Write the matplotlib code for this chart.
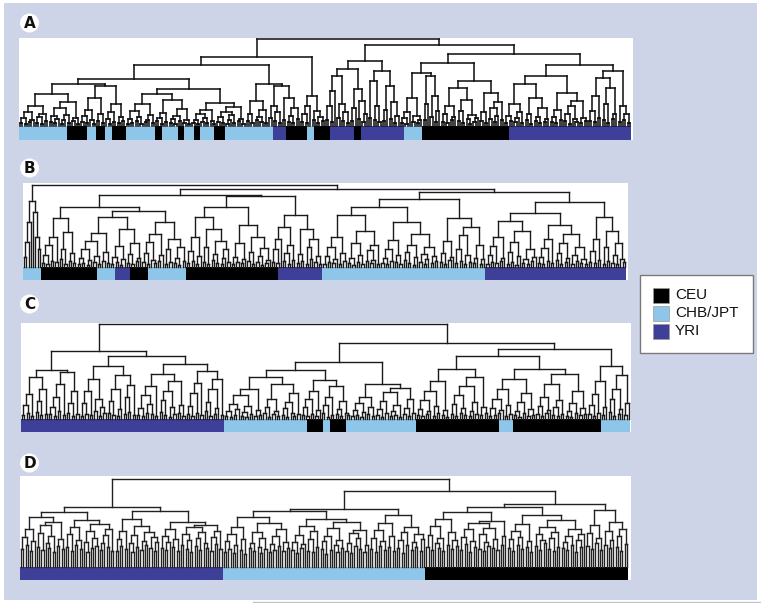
import matplotlib
matplotlib.use("Agg")
import matplotlib.pyplot as plt
from matplotlib.collections import LineCollection
from matplotlib.patches import Rectangle, Circle
import numpy as np

W, H = 761, 603

# ---------------- data ----------------
POP_NAMES = ["CEU", "CHB/JPT", "YRI"]
POP_COLORS = {"CEU": "#000000", "CHB/JPT": "#8ec6ea", "YRI": "#3d3f98"}
C_, J_, Y_ = "CEU", "CHB/JPT", "YRI"

# colour-bar segments (population, number of individuals) left -> right
A_pops = [J_, C_, J_, C_, J_, C_, J_, C_, J_, C_, J_, C_, J_, C_, J_, Y_, C_, J_, C_, Y_, C_, Y_, J_, C_, Y_]
A_counts = [21, 9, 4, 4, 3, 6, 13, 3, 7, 3, 4, 3, 6, 5, 21, 6, 9, 3, 7, 11, 3, 19, 8, 38, 54]
B_pops = [J_, C_, J_, Y_, C_, J_, C_, Y_, J_, Y_]
B_counts = [8, 25, 8, 7, 8, 17, 41, 20, 73, 63]
C_pops = [Y_, J_, C_, J_, C_, J_, C_, J_, C_, J_]
C_counts = [90, 37, 7, 3, 7, 31, 37, 6, 39, 13]
D_pops = [Y_, J_, C_]
D_counts = [90, 90, 90]

# dendrograms: (merge height, left, right); a list = merge heights between
# neighbouring leaves inside a small cluster
A_tree = (87,
  (69,
    (61,
      (47,
        (42, [3, 8, 2, 14, 4, 6, 20, 3, 9, 2, 12, 5, 32, 4, 10, 3, 7, 18, 2, 6, 11, 3, 24, 5, 8, 2],
             [4, 10, 3, 16, 6, 2, 28, 5, 12, 3, 40, 7, 2, 14, 4, 22, 3, 9, 5]),
        (37, [2, 7, 3, 15, 5, 9, 2, 22, 4, 6, 11, 3, 32, 5, 8, 2, 13, 4, 26, 3, 7, 2, 10, 5, 17, 3, 6, 2],
             [3, 6, 2, 12, 4, 8, 3, 16, 5, 2, 23, 4, 9, 3, 14, 2, 6, 11, 3, 19, 5, 7, 2])),
      [5, 12, 3, 25, 6, 9, 4, 16, 3, 42, 8, 20, 5, 14, 3, 40, 6, 28, 4, 10, 3, 18, 7]),
    [4, 12, 3, 20, 30, 6, 15, 3, 9, 5]),
  (81,
    (65,
      (57, [6, 20, 4, 35, 50, 8, 22, 5, 14, 3], [5, 18, 37, 7, 25, 4, 12]),
      (55, [8, 45, 6, 20, 4], [5, 16, 40, 7, 24, 3, 10])),
    (72,
      (63,
        (53, [3, 8, 2, 14, 28, 4, 10, 3, 6], [6, 22, 50, 9, 30, 4, 15]),
        (45, [4, 12, 3, 20, 6, 9, 38, 5, 15, 3, 26, 7, 2, 11, 4, 8],
             [5, 14, 3, 33, 7, 18, 4, 10, 24, 6])),
      (61,
        (50, [3, 10, 5, 22, 4, 8, 14, 3, 42, 6, 12, 2, 28, 5, 9, 3, 18, 4, 7],
             [4, 9, 3, 16, 6, 33, 5, 12, 2, 20, 7, 4, 25, 3, 8, 5]),
        (55, [5, 15, 4, 30, 8, 48, 6, 22, 3, 38, 7, 12], [4, 20, 6, 12, 3])))))

B_tree = (82,
  [10, 25, 45, 66, 55, 30, 18],
  (78,
    (72,
      (60, [4, 12, 3, 22, 6, 30, 5, 49, 8, 18, 3, 35, 6, 14, 4],
           (56, [3, 9, 4, 18, 2, 7, 26, 5, 11, 3, 34, 6, 15, 4, 50, 3, 10, 5, 21, 2, 8, 38, 4, 13, 3, 24, 6, 9],
                [5, 14, 3, 25, 7, 4, 33, 6, 12, 45, 3, 18, 5, 28, 4, 9, 2, 20, 6])),
      (71, (60, [4, 16, 6, 30, 3, 11, 50, 5, 20, 3, 38, 7, 13, 4, 26, 3, 9, 18, 5],
                [3, 10, 5, 24, 4, 8, 42, 6, 15, 3, 30, 5, 11, 2, 19, 4, 7]),
           (52, [5, 18, 4, 28, 40, 6, 14, 3, 22, 7],
                [4, 13, 6, 38, 3, 20, 8, 28, 5, 11, 3]))),
    (75,
      (68, (60, [3, 11, 5, 20, 4, 8, 30, 3, 14, 6, 52, 4, 9, 2, 24, 5, 12, 3, 36, 6, 17, 4, 7, 22, 3],
                [4, 9, 3, 18, 6, 27, 5, 12, 3, 45, 7, 15, 4, 22, 2, 10, 33, 5, 13, 3, 8, 20, 4, 11, 6]),
           [5, 14, 3, 26, 7, 10, 49, 4, 18, 6, 32, 3, 12, 5, 40, 4, 9, 22, 3, 8]),
      (65, (54, [3, 12, 5, 21, 4, 30, 6, 9, 46, 3, 15, 5, 25, 2, 11, 36, 4, 8, 3, 18, 6, 10],
                [4, 10, 3, 19, 6, 28, 4, 42, 7, 14, 3, 24, 5, 9, 33, 3, 12, 6, 20, 4, 8, 3]),
           [5, 16, 4, 28, 7, 50, 3, 20, 6, 36, 4, 12, 3, 24, 8, 5]))))

C_tree = (95,
  (68,
    (49, [4, 14, 6, 25, 3, 42, 7, 18, 4, 30, 5],
         [5, 12, 3, 22, 8, 35, 4, 47, 6, 16, 3, 28, 5]),
    (63,
      (53, [3, 16, 5, 28, 4, 40, 8, 20, 3, 12, 6],
           [6, 18, 4, 30, 3, 10, 44, 5, 22, 7, 34, 4]),
      (55, [4, 11, 3, 24, 6, 15, 5, 33, 3, 45, 7, 19, 4, 28, 2, 12, 5, 38, 6, 14, 3],
           [5, 13, 3, 26, 6, 36, 4, 48, 8, 17, 3, 30, 5, 11, 40, 4]))),
  (76,
    (57,
      (49, [3, 8, 2, 15, 4, 10, 24, 3, 7, 2, 13, 5, 30, 3, 9, 4, 42, 6, 12, 2, 20, 5, 8, 3, 35, 4, 11, 2, 17, 6, 3, 26, 5],
           [4, 12, 3, 20, 5, 28, 3, 9, 39, 6, 14, 2, 22, 4, 33, 5, 10, 3, 18, 6, 4]),
      [3, 9, 4, 16, 2, 7, 22, 5, 12, 3, 35, 4, 10, 2, 18, 6, 27, 3, 8, 4, 14, 2, 31, 5, 11, 3, 20, 6]),
    (70,
      (63, [4, 10, 3, 19, 5, 8, 28, 3, 13, 6, 38, 4, 9, 2, 50, 5, 15, 3, 24, 6, 11, 4, 33, 3, 8, 17, 5, 42, 4, 12, 6],
           [3, 11, 4, 20, 6, 9, 30, 3, 14, 5, 40, 4, 8, 2, 17, 6, 26, 3, 10, 4, 50, 5, 13, 3, 22, 6, 9, 35, 4, 12,
            3, 19, 5, 45, 3, 8, 2, 16, 6, 28, 4, 11, 5]),
      [5, 14, 3, 25, 6, 38, 4, 12, 53, 7, 20, 3, 30, 5, 10, 44, 4, 16])))

D_tree = (88,
  (60,
    (55, [18, 30, 22, 38, 16, 26, 50, 20, 34, 17, 42, 24, 19, 31, 15, 45, 21, 28, 18],
         [20, 33, 16, 40, 22, 27, 18, 47, 25, 15, 36, 19, 29, 21, 43, 17, 24, 32, 20, 38, 16]),
    (56, [16, 28, 21, 36, 18, 48, 24, 15, 32, 20, 41, 17, 26, 22, 35, 19, 30, 16, 25],
         [19, 31, 17, 25, 38, 20, 28, 16, 45, 22, 33, 18, 27, 15, 40, 21, 29, 17, 35, 24, 19, 42, 16, 30, 23, 36, 18])),
  (76,
    (58,
      (56, [15, 26, 18, 33, 14, 22, 40, 17, 28, 13, 50, 19, 24, 16, 35, 20, 14, 29, 18, 44, 15, 23, 17, 31, 21, 38, 16, 25, 19],
           [17, 25, 14, 32, 19, 23, 41, 16, 28, 15, 36, 20, 48, 18, 26, 13, 31, 17, 39, 22, 15, 27, 19, 45, 16, 24, 14, 34,
            21, 29, 18, 37, 15, 22]),
      [18, 29, 15, 37, 21, 26, 17, 44, 20, 31, 16, 52, 19, 27, 14, 35, 22, 40, 17, 25, 20, 33, 16, 28]),
    (63,
      (60, [20, 32, 17, 41, 24, 19, 29, 16, 48, 22, 35, 18, 27, 21, 55, 17, 30, 23, 38, 15, 26, 20, 44, 18, 33, 16, 25,
            21, 39, 19, 28, 17, 46, 22, 31],
           [19, 28, 16, 36, 22, 30, 18, 43, 20, 26, 15, 52, 21, 33, 17, 27, 24, 40, 18, 29, 16, 35, 20, 47, 19, 25, 17, 31,
            22, 38, 15, 27, 20, 33]),
      [21, 34, 18, 42, 24, 29, 17, 57, 22, 36, 19, 27, 45, 20, 31, 16, 38, 23])))

PANEL_LABELS = ["A", "B", "C", "D"]

# ---------------- helpers ----------------
def flatten(node):
    if isinstance(node, list):
        return list(node)
    h, left, right = node
    return flatten(left) + [h] + flatten(right)


def dendro_segments(gaps):
    n = len(gaps) + 1
    segs = []

    def rec(lo, hi):
        if lo == hi:
            return float(lo), 0.0
        k = lo + int(np.argmax(gaps[lo:hi]))
        lx, lh = rec(lo, k)
        rx, rh = rec(k + 1, hi)
        h = gaps[k]
        segs.append([(lx, lh), (lx, h)])
        segs.append([(rx, rh), (rx, h)])
        segs.append([(lx, h), (rx, h)])
        return (lx + rx) / 2.0, h

    rec(0, n - 1)
    return segs, n


fig = plt.figure(figsize=(W / 100, H / 100), dpi=100)
fig.patch.set_facecolor("white")

bg = fig.add_axes([0, 0, 1, 1])
bg.set_xlim(0, W)
bg.set_ylim(H, 0)
bg.axis("off")
bg.add_patch(Rectangle((4, 3), 753, 597, facecolor="#ced4e8", edgecolor="none"))
bg.plot([253, 761], [601.5, 601.5], color="#c4c4c4", lw=1.0)


def px_axes(x0, y0, x1, y1):
    return fig.add_axes([x0 / W, 1 - y1 / H, (x1 - x0) / W, (y1 - y0) / H])


panels = [
    dict(tree=A_tree, pops=A_pops, counts=A_counts, xl=19, xr=631, xbr=633, top=38, base=126, cbb=140, lab=(29.5, 23), lw=1.1, lc="#0a0a0a"),
    dict(tree=B_tree, pops=B_pops, counts=B_counts, xl=23, xr=626, xbr=628, top=183, base=267, cbb=280, lab=(29.5, 168), lw=1.0, lc="#1a1a1a"),
    dict(tree=C_tree, pops=C_pops, counts=C_counts, xl=21, xr=630, xbr=631, top=323, base=419, cbb=432, lab=(29.5, 304), lw=1.0, lc="#1a1a1a"),
    dict(tree=D_tree, pops=D_pops, counts=D_counts, xl=20, xr=628, xbr=631, top=476, base=567, cbb=580, lab=(29.5, 463), lw=1.0, lc="#222222"),
]

for p, label in zip(panels, PANEL_LABELS):
    total = sum(p["counts"])
    s = (p["xr"] - p["xl"]) / total
    ax = px_axes(p["xl"], p["top"], p["xbr"], p["cbb"])
    ax.set_facecolor("white")
    ax.set_xlim(-0.5, -0.5 + (p["xbr"] - p["xl"]) / s)
    cbh = p["cbb"] - p["base"]
    ax.set_ylim(-cbh, p["base"] - p["top"])
    ax.axis("off")
    ax.add_patch(Rectangle((0, 0), 1, 1, transform=ax.transAxes, facecolor="white",
                           edgecolor="none", zorder=0))
    # colour bar
    start = 0
    for pop, cnt in zip(p["pops"], p["counts"]):
        ax.bar(start - 0.5, cbh, width=cnt, bottom=-cbh, align="edge",
               color=POP_COLORS[pop], linewidth=0, zorder=2)
        start += cnt
    # dendrogram
    gaps = flatten(p["tree"])
    segs, n = dendro_segments(gaps)
    scale = total / n
    segs = [[((x + 0.5) * scale - 0.5, y) for x, y in seg] for seg in segs]
    lc = LineCollection(segs, colors=p["lc"], linewidths=p["lw"], zorder=3,
                        capstyle="projecting")
    ax.add_collection(lc)

    cx, cy = p["lab"]
    bg.add_patch(Circle((cx, cy), 9.5, facecolor="white", edgecolor="none", zorder=5))
    bg.text(cx, cy + 0.5, label, ha="center", va="center", fontsize=11,
            fontweight="bold", family="DejaVu Sans", color="#111111", zorder=6)

# legend
bg.add_patch(Rectangle((640, 275), 113, 78, facecolor="white", edgecolor="#7a7a7a", lw=1.0, zorder=5))
ys = [295, 313, 331]
for name, yy in zip(POP_NAMES, ys):
    bg.add_patch(Rectangle((653, yy - 7.5), 16, 15, facecolor=POP_COLORS[name],
                           edgecolor="#9a9a9a", lw=0.5, zorder=6))
    bg.text(675, yy, name, ha="left", va="center", fontsize=11,
            family="Liberation Sans", color="#111111", zorder=6)

fig.savefig("out.png", dpi=100, facecolor="white")
